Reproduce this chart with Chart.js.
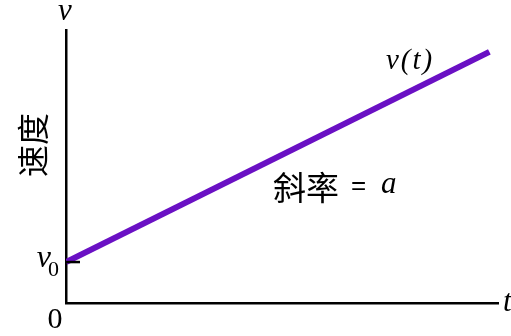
<!DOCTYPE html>
<html>
<head>
<meta charset="utf-8">
<script src="https://cdn.jsdelivr.net/npm/chart.js@4.4.0/dist/chart.umd.min.js"></script>
<style>
  html, body { margin: 0; padding: 0; background: #fff; }
  #wrap { width: 511px; height: 336px; position: relative; }
</style>
</head>
<body>
<div id="wrap"><canvas id="c" width="511" height="336"></canvas></div>
<script>
// v = v0 + a t (échelle 0..10 sur les deux axes)
const times = [0, 9.8];
const speeds = [1.5, 9.2];
const v0 = 1.5;

const lineColor = '#6a10c4';

// textes et petit trait v0, dessinés par-dessus le graphique
const annotations = {
    id: 'annotations',
    afterDraw(chart) {
        const ctx = chart.ctx;
        const a = chart.chartArea;
        const ys = chart.scales.y;
        const yv0 = ys.getPixelForValue(v0);
        ctx.save();
        ctx.fillStyle = '#000';
        ctx.textBaseline = 'middle';

        // trait v0
        ctx.strokeStyle = '#000';
        ctx.lineWidth = 2.5;
        ctx.beginPath();
        ctx.moveTo(a.left, yv0);
        ctx.lineTo(a.left + 14, yv0);
        ctx.stroke();

        // v0
        ctx.font = 'italic 32px "Liberation Serif", serif';
        ctx.textAlign = 'right';
        ctx.fillText('v', 51, yv0 - 3);
        ctx.font = '22px "Liberation Serif", serif';
        ctx.textAlign = 'left';
        ctx.fillText('0', 48, yv0 + 8);

        // v en haut, t à droite, 0 à l'origine
        ctx.font = 'italic 31px "Liberation Serif", serif';
        ctx.textAlign = 'center';
        ctx.fillText('v', 65, 12);
        ctx.textAlign = 'left';
        ctx.fillText('t', 503, a.bottom);
        ctx.font = '30px "Liberation Serif", serif';
        ctx.textAlign = 'center';
        ctx.fillText('0', 55, a.bottom + 17);

        // v(t)
        ctx.font = 'italic 29px "Liberation Serif", serif';
        ctx.textAlign = 'left';
        ctx.letterSpacing = '2px';
        ctx.fillText('v(t)', 386, 61);
        ctx.letterSpacing = '0px';

        // pente
        ctx.font = '33px "Noto Sans CJK SC", sans-serif';
        ctx.fillText('斜率', 273, 187);
        ctx.font = '26px "Liberation Sans", sans-serif';
        ctx.fillText('=', 351, 187);
        ctx.font = 'italic 31px "Liberation Serif", serif';
        ctx.fillText('a', 381, 185);

        // titre vertical
        ctx.translate(33, 145);
        ctx.rotate(-Math.PI / 2);
        ctx.font = '32px "Noto Sans CJK SC", sans-serif';
        ctx.textAlign = 'center';
        ctx.fillText('速度', 0, 0);
        ctx.restore();
    }
};

new Chart(document.getElementById('c'), {
    type: 'scatter',
    data: {
        datasets: [{
            data: times.map((t, i) => ({ x: t, y: speeds[i] })),
            showLine: true,
            borderColor: lineColor,
            borderWidth: 6,
            pointRadius: 0,
            borderCapStyle: 'butt'
        }]
    },
    options: {
        responsive: false,
        animation: false,
        layout: { padding: { left: 66, right: 13, top: 30, bottom: 33 } },
        plugins: { legend: { display: false }, tooltip: { enabled: false } },
        scales: {
            x: {
                type: 'linear', min: 0, max: 10,
                grid: { display: false },
                ticks: { display: false },
                border: { display: true, color: '#000', width: 2.5 },
                afterFit(s) { s.height = 0; }
            },
            y: {
                type: 'linear', min: 0, max: 10,
                grid: { display: false },
                ticks: { display: false },
                border: { display: true, color: '#000', width: 2.5 },
                afterFit(s) { s.width = 0; }
            }
        }
    },
    plugins: [annotations]
});
</script>
</body>
</html>
